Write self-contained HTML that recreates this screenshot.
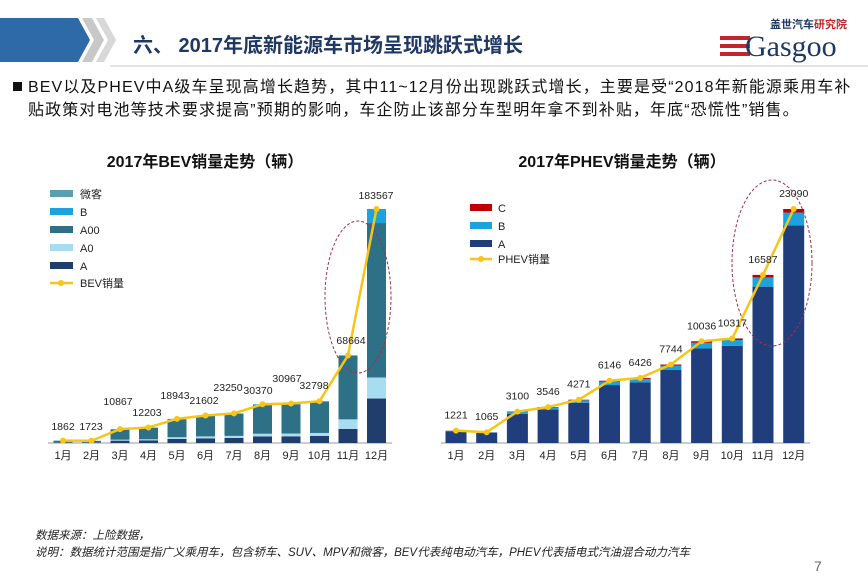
<!DOCTYPE html><html><head><meta charset="utf-8"><style>
body{margin:0;background:#fff;width:868px;height:576px;overflow:hidden;font-family:"Liberation Sans","Noto Sans CJK SC",sans-serif}
</style></head><body>
<svg id="s" width="868" height="576" xmlns="http://www.w3.org/2000/svg" font-family="Liberation Sans, Noto Sans CJK SC, sans-serif">
<polygon points="0,18 78,18 90,40 78,62 0,62" fill="#2e6aa8"/>
<polygon points="82,18 92,18 104,40 92,62 82,62 94,40" fill="#c8c8c8"/>
<polygon points="96,18 104,18 116,40 104,62 96,62 108,40" fill="#d8d8d8"/>
<text x="133" y="52" font-size="20" font-weight="bold" fill="#1f3864">六、 2017年底新能源车市场呈现跳跃式增长</text>
<text x="770" y="28" font-size="11" font-weight="bold" fill="#1f3864">盖世汽车<tspan fill="#c0272d">研究院</tspan></text>
<rect x="720" y="36" width="30" height="4" fill="#c0272d"/><rect x="720" y="44" width="30" height="4" fill="#c0272d"/><rect x="720" y="52" width="30" height="4" fill="#c0272d"/>
<text x="745" y="56" font-size="30" fill="#1f3864" font-family="Liberation Serif, serif">Gasgoo</text>
<line x1="110" y1="66" x2="868" y2="66" stroke="#c8c8c8" stroke-width="1"/>
<rect x="13" y="82" width="9" height="9" fill="#111"/>
<text x="28" y="92" font-size="16" letter-spacing="1.1" fill="#111">BEV以及PHEV中A级车呈现高增长趋势，其中11~12月份出现跳跃式增长，主要是受“2018年新能源乘用车补</text>
<text x="28" y="115" font-size="16" letter-spacing="1.1" fill="#111">贴政策对电池等技术要求提高”预期的影响，车企防止该部分车型明年拿不到补贴，年底“恐慌性”销售。</text>
<text x="205" y="167" font-size="16" font-weight="bold" fill="#111" text-anchor="middle">2017年BEV销量走势（辆）</text>
<text x="622" y="167" font-size="16" font-weight="bold" fill="#111" text-anchor="middle">2017年PHEV销量走势（辆）</text>
<g id="g"></g>
<text x="35" y="539" font-size="11.5" font-style="italic" fill="#222">数据来源：上险数据，</text>
<text x="35" y="556" font-size="11.5" font-style="italic" fill="#222">说明：数据统计范围是指广义乘用车，包含轿车、SUV、MPV和微客，BEV代表纯电动汽车，PHEV代表插电式汽油混合动力汽车</text>
<text x="814" y="571" font-size="14" fill="#666">7</text>
</svg>
<script>
var g=document.getElementById('g'),h='';
function R(x,y,w,hh,c){h+='<rect x="'+x+'" y="'+y+'" width="'+w+'" height="'+hh+'" fill="'+c+'"/>';}
function T(x,y,t,s,a){h+='<text x="'+x+'" y="'+y+'" font-size="'+(s||10)+'" fill="#222" text-anchor="'+(a||'middle')+'">'+t+'</text>';}
var bv=[1862,1723,10867,12203,18943,21602,23250,30370,30967,32798,68664,183567];
var base=443,sc=234/183567,pts=[];
h+='<line x1="48" y1="443" x2="392" y2="443" stroke="#999"/>';
for(var i=0;i<12;i++){var cx=63+i*28.5,w=19,x=cx-w/2,v=bv[i];
 var fr=i==11?[[.19,'#1f3e6b'],[.09,'#a8dcf0'],[.66,'#2e7186'],[.06,'#1aa3dc']]:i==10?[[.16,'#1f3e6b'],[.11,'#a8dcf0'],[.73,'#2e7186']]:[[.17,'#1f3e6b'],[.07,'#a8dcf0'],[.74,'#2e7186'],[.02,'#1aa3dc']];
 var y=base;for(var k=0;k<fr.length;k++){var hh=v*sc*fr[k][0];y-=hh;R(x,y,w,hh,fr[k][1]);}
 pts.push([cx,base-v*sc]);
 T(cx,459,(i+1)+'月',11);
}
h+='<ellipse cx="358" cy="297" rx="33" ry="76" fill="none" stroke="#a03050" stroke-dasharray="3,2"/>';
h+='<polyline points="'+pts.map(p=>p.join(',')).join(' ')+'" fill="none" stroke="#f5c518" stroke-width="2.5"/>';
var ly=[430,430,405,416,399,404,391,394,382,389,344,199];
var lx=[63,91,118,147,175,204,228,258,287,314,351,376];
pts.forEach((p,i)=>{h+='<circle cx="'+p[0]+'" cy="'+p[1]+'" r="3" fill="#f5c518"/>';T(lx[i],ly[i],bv[i],10.5);});
var lc=['#5aa0b0','#1aa3dc','#2e7186','#a8dcf0','#1f3e6b'],ln=['微客','B','A00','A0','A'];
for(var k=0;k<5;k++){R(50,190+k*18,23,7,lc[k]);T(80,198+k*18,ln[k],11,'start');}
h+='<line x1="50" y1="283" x2="73" y2="283" stroke="#f5c518" stroke-width="2.5"/><circle cx="61" cy="283" r="3" fill="#f5c518"/>';T(80,287,'BEV销量',11,'start');
var pv=[1221,1065,3100,3546,4271,6146,6426,7744,10036,10317,16587,23090];
sc=234/23090;pts=[];
h+='<line x1="441" y1="443" x2="810" y2="443" stroke="#999"/>';
for(var i=0;i<12;i++){var cx=456+i*30.7,w=21,x=cx-w/2,v=pv[i];
 var fr=[[.93,'#1f3e7b'],[.055,'#1aa3dc'],[.015,'#c00000']];
 var y=base;for(var k=0;k<3;k++){var hh=v*sc*fr[k][0];y-=hh;R(x,y,w,hh,fr[k][1]);}
 pts.push([cx,base-v*sc]);T(cx,459,(i+1)+'月',11);
}
h+='<ellipse cx="772" cy="263" rx="40" ry="83" fill="none" stroke="#a03050" stroke-dasharray="3,2"/>';
h+='<polyline points="'+pts.map(p=>p.join(',')).join(' ')+'" fill="none" stroke="#f5c518" stroke-width="2.5"/>';
pts.forEach((p,i)=>{h+='<circle cx="'+p[0]+'" cy="'+p[1]+'" r="3" fill="#f5c518"/>';T(p[0],p[1]-12,pv[i],10.5);});
var pc=['#c00000','#1aa3dc','#1f3e7b'],pn=['C','B','A'];
for(var k=0;k<3;k++){R(470,204+k*18,22,7,pc[k]);T(498,212+k*18,pn[k],11,'start');}
h+='<line x1="470" y1="259" x2="492" y2="259" stroke="#f5c518" stroke-width="2.5"/><circle cx="481" cy="259" r="3" fill="#f5c518"/>';T(498,263,'PHEV销量',11,'start');
g.innerHTML=h;
</script>
</body></html>
